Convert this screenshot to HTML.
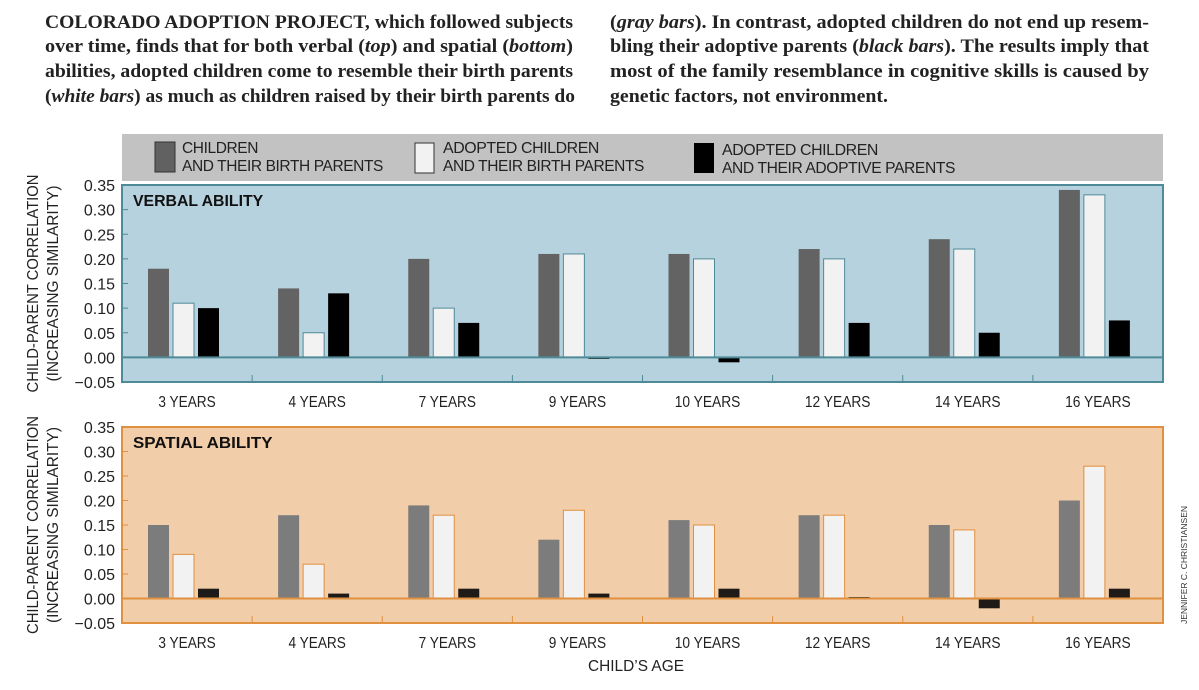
<!DOCTYPE html>
<html><head><meta charset="utf-8"><style>
html,body{margin:0;padding:0;background:#fff;width:1199px;height:690px;overflow:hidden}
svg text{font-family:"Liberation Sans",sans-serif}
.s{font-family:"Liberation Serif",serif;font-weight:bold;font-size:18.5px;fill:#222}
.lg{font-size:15.5px;fill:#222;letter-spacing:-0.4px}
</style></head><body>
<svg id="c" width="1199" height="690" xmlns="http://www.w3.org/2000/svg">
<g>
<text class="s" x="45" y="28" textLength="528" lengthAdjust="spacingAndGlyphs">COLORADO ADOPTION PROJECT, which followed subjects</text>
<text class="s" x="45" y="52" textLength="528" lengthAdjust="spacingAndGlyphs">over time, finds that for both verbal (<tspan font-style="italic">top</tspan>) and spatial (<tspan font-style="italic">bottom</tspan>)</text>
<text class="s" x="45" y="77" textLength="528" lengthAdjust="spacingAndGlyphs">abilities, adopted children come to resemble their birth parents</text>
<text class="s" x="45" y="102" textLength="530" lengthAdjust="spacingAndGlyphs">(<tspan font-style="italic">white bars</tspan>) as much as children raised by their birth parents do</text>
<text class="s" x="610" y="28" textLength="539" lengthAdjust="spacingAndGlyphs">(<tspan font-style="italic">gray bars</tspan>). In contrast, adopted children do not end up resem-</text>
<text class="s" x="610" y="52" textLength="539" lengthAdjust="spacingAndGlyphs">bling their adoptive parents (<tspan font-style="italic">black bars</tspan>). The results imply that</text>
<text class="s" x="610" y="77" textLength="539" lengthAdjust="spacingAndGlyphs">most of the family resemblance in cognitive skills is caused by</text>
<text class="s" x="610" y="102" textLength="278" lengthAdjust="spacingAndGlyphs">genetic factors, not environment.</text>
</g>
<g>
<rect x="122" y="134" width="1041" height="47" fill="#c2c2c2"/>
<rect x="155" y="142" width="20" height="30" fill="#616161" stroke="#333"/>
<text class="lg" x="182" y="153" textLength="76" lengthAdjust="spacingAndGlyphs">CHILDREN</text>
<text class="lg" x="182" y="171" textLength="201" lengthAdjust="spacingAndGlyphs">AND THEIR BIRTH PARENTS</text>
<rect x="415" y="143" width="19" height="30" fill="#f2f2f2" stroke="#333"/>
<text class="lg" x="443" y="153" textLength="156" lengthAdjust="spacingAndGlyphs">ADOPTED CHILDREN</text>
<text class="lg" x="443" y="171" textLength="201" lengthAdjust="spacingAndGlyphs">AND THEIR BIRTH PARENTS</text>
<rect x="694" y="143" width="20" height="30" fill="#000"/>
<text class="lg" x="722" y="155" textLength="156" lengthAdjust="spacingAndGlyphs">ADOPTED CHILDREN</text>
<text class="lg" x="722" y="173" textLength="233" lengthAdjust="spacingAndGlyphs">AND THEIR ADOPTIVE PARENTS</text>
</g>
<g id="plots"></g>
<text x="636" y="671" font-size="15.5" text-anchor="middle" fill="#222" textLength="96" lengthAdjust="spacingAndGlyphs">CHILD’S AGE</text>
<text transform="translate(1187,565) rotate(-90)" font-size="8.5" text-anchor="middle" fill="#333">JENNIFER C. CHRISTIANSEN</text>
</svg>
<script>
const categories = ["3 YEARS","4 YEARS","7 YEARS","9 YEARS","10 YEARS","12 YEARS","14 YEARS","16 YEARS"];
const verbalBirth = [0.18,0.14,0.20,0.21,0.21,0.22,0.24,0.34];
const verbalAdoptedBirth = [0.11,0.05,0.10,0.21,0.20,0.20,0.22,0.33];
const verbalAdoptive = [0.10,0.13,0.07,-0.003,-0.01,0.07,0.05,0.075];
const spatialBirth = [0.15,0.17,0.19,0.12,0.16,0.17,0.15,0.20];
const spatialAdoptedBirth = [0.09,0.07,0.17,0.18,0.15,0.17,0.14,0.27];
const spatialAdoptive = [0.02,0.01,0.02,0.01,0.02,0.003,-0.02,0.02];
const tickValues = [0.35,0.30,0.25,0.20,0.15,0.10,0.05,0.00,-0.05];
const tickLabels = ["0.35","0.30","0.25","0.20","0.15","0.10","0.05","0.00","\u22120.05"];

const NS="http://www.w3.org/2000/svg";
const root=document.getElementById('plots');
function mk(tag,attrs,parent){const e=document.createElementNS(NS,tag);for(const k in attrs)e.setAttribute(k,attrs[k]);parent.appendChild(e);return e;}
const X0=122,W=1041,gw=W/categories.length;
function xBar(i,s){return X0+i*gw+26+s*25;}
function panel(key,top,bottom,bg,border,whiteStroke,cols,title,series){
  const g=mk('g',{},root);
  
  
  const y=v=>top+(0.35-v)/0.40*(bottom-top);
  mk('rect',{x:X0,y:top,width:W,height:bottom-top,fill:bg,stroke:border,'stroke-width':2},g);
  const t=mk('text',{x:133,y:top+21,'font-size':15.5,'font-weight':'bold',fill:'#111',textLength:title.length*9.3,lengthAdjust:'spacingAndGlyphs'},g);
  t.textContent=title;
  
  
  tickValues.forEach((v,i)=>{
    const tl=mk('text',{x:115,y:y(v)+6,'font-size':16,'text-anchor':'end',fill:'#222'},g);
    tl.textContent=tickLabels[i];
    
    
    if(i>0&&i<tickValues.length-1) mk('line',{x1:X0,x2:X0+6,y1:y(v),y2:y(v),stroke:border,'stroke-width':1},g);
  });
  const strokes=['none',whiteStroke,'none'];
  categories.forEach((c,i)=>{
    if(i>0) mk('line',{x1:X0+i*gw,x2:X0+i*gw,y1:bottom,y2:bottom-7,stroke:border,'stroke-width':1},g);
    series.forEach((arr,s)=>{
      const v=arr[i];const y0=y(0),yv=y(v);
      const r=mk('rect',{x:xBar(i,s),y:Math.min(y0,yv),width:21,height:Math.max(1.5,Math.abs(yv-y0)),fill:cols[s],stroke:strokes[s],'stroke-width':1},g);
      
      
    });
    const lab=mk('text',{x:X0+i*gw+gw/2,y:bottom+25,'font-size':16,'text-anchor':'middle',fill:'#222',textLength:c.length*8.2,lengthAdjust:'spacingAndGlyphs'},g);
    lab.textContent=c;
    
    
  });
  mk('line',{x1:X0,x2:X0+W,y1:y(0),y2:y(0),stroke:border,'stroke-width':2},g);
  const cy=(top+bottom)/2;
  const a=mk('text',{transform:`translate(38,${cy}) rotate(-90)`,'font-size':16,'text-anchor':'middle',fill:'#222',textLength:218,lengthAdjust:'spacingAndGlyphs'},g);
  a.textContent='CHILD-PARENT CORRELATION';
  
  
  const b=mk('text',{transform:`translate(58,${cy}) rotate(-90)`,'font-size':16,'text-anchor':'middle',fill:'#222',textLength:196,lengthAdjust:'spacingAndGlyphs'},g);
  b.textContent='(INCREASING SIMILARITY)';
  
  
}
panel('verbal',185,382,'#b6d2de','#4f8a99','#4f8a99',['#636363','#f2f2f2','#000'],'VERBAL ABILITY',[verbalBirth,verbalAdoptedBirth,verbalAdoptive]);
panel('spatial',427,623,'#f2cda9','#e0903f','#e0903f',['#7c7c7c','#f2f2f2','#1e1a17'],'SPATIAL ABILITY',[spatialBirth,spatialAdoptedBirth,spatialAdoptive]);
</script>
</body></html>
